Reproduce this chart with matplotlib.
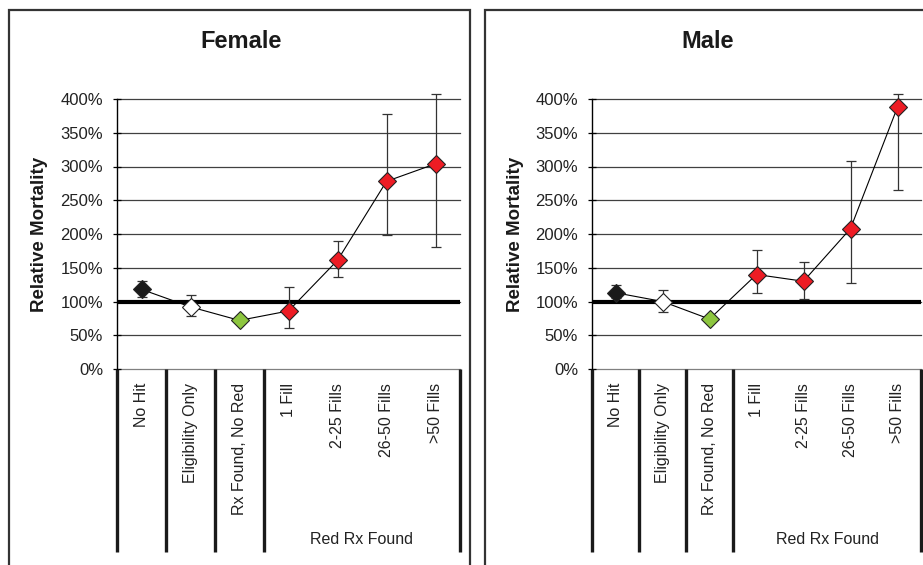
import numpy as np
import matplotlib
matplotlib.use("Agg")
import matplotlib.pyplot as plt
from matplotlib.patches import Rectangle
from matplotlib.ticker import FuncFormatter
import matplotlib.transforms as mtransforms

plt.rcParams['font.family'] = ['Liberation Sans', 'DejaVu Sans']

categories = ['No Hit', 'Eligibility Only', 'Rx Found, No Red',
              '1 Fill', '2-25 Fills', '26-50 Fills', '>50 Fills']
group_label = 'Red Rx Found'
marker_colors = ['#1a1a1a', '#ffffff', '#8dc63f',
                 '#ed1c24', '#ed1c24', '#ed1c24', '#ed1c24']

female_value = [118, 92, 72, 86, 161, 278, 304]
female_low = [106, 78, 68, 61, 136, 199, 181]
female_high = [130, 109, 76, 121, 189, 378, 408]

male_value = [113, 100, 74, 140, 130, 208, 388]
male_low = [105, 84, 71, 113, 103, 128, 265]
male_high = [124, 117, 77, 176, 158, 308, 408]

W, H = 923, 565
fig = plt.figure(figsize=(W / 100, H / 100), dpi=100)

# panel frames (bottom runs past the image edge)
for x0, x1 in [(8.5, 470), (485, 940)]:
    fig.patches.append(Rectangle((x0 / W, -0.2), (x1 - x0) / W, 1.2 - 10 / H,
                                 transform=fig.transFigure, fill=False,
                                 edgecolor='#333333', linewidth=1.6))


def draw_panel(ax, title, vals, low, high, title_x, ylabel_x):
    x = np.arange(len(categories))
    vals = np.array(vals)
    yerr = [vals - np.array(low), np.array(high) - vals]

    for yv in range(50, 401, 50):
        ax.axhline(yv, color='#404040', linewidth=0.9, zorder=1, clip_on=False)
    ax.axhline(0, color='#808080', linewidth=0.9, zorder=1, clip_on=False)
    ax.axhline(100, color='black', linewidth=3.0, zorder=2)

    ax.errorbar(x, vals, yerr=yerr, fmt='none', ecolor='#333333',
                elinewidth=0.9, capsize=3.5, capthick=0.9, zorder=3,
                clip_on=False)
    ax.plot(x, vals, color='black', linewidth=0.8, zorder=4, clip_on=False)
    for xi, v, c in zip(x, vals, marker_colors):
        ax.plot(xi, v, marker='D', markersize=9, markerfacecolor=c,
                markeredgecolor='#222222', markeredgewidth=0.8, zorder=5,
                clip_on=False)

    ax.set_xlim(-0.5, len(categories) - 0.5)
    ax.set_ylim(0, 400)
    ax.set_yticks(range(0, 401, 50))
    ax.yaxis.set_major_formatter(FuncFormatter(lambda v, p: f'{int(v)}%'))
    ax.tick_params(axis='y', direction='inout', length=6, width=0.9,
                   labelsize=12, labelcolor='#222222', pad=7)
    ax.set_xticks([])
    for s in ['top', 'right', 'bottom']:
        ax.spines[s].set_visible(False)
    ax.spines['left'].set_linewidth(1.0)

    # category separators below the axis
    trans = mtransforms.blended_transform_factory(ax.transData, ax.transAxes)
    for sx in [-0.5, 0.5, 1.5, 2.5, len(categories) - 0.5]:
        ax.plot([sx, sx], [0, -0.678], transform=trans, color='#1a1a1a',
                linewidth=2.4, clip_on=False, solid_capstyle='butt')
    for xi, lab in zip(x, categories):
        ax.text(xi, -0.052, lab, transform=trans, rotation=90, ha='center',
                va='top', fontsize=11.5, color='#222222')
    ax.text(4.5, -0.63, group_label, transform=trans, ha='center',
            va='center', fontsize=11.5, color='#222222')

    fig.text(title_x / W, 1 - 42 / H, title, ha='center', va='center',
             fontsize=17, fontweight='bold', color='#1a1a1a')
    fig.text(ylabel_x / W, 1 - 234 / H, 'Relative Mortality', rotation=90,
             ha='center', va='center', fontsize=13.5, fontweight='bold',
             color='#1a1a1a')


y0 = 1 - 369 / H
h = (369 - 99) / H
ax1 = fig.add_axes([117 / W, y0, (460 - 117) / W, h])
ax2 = fig.add_axes([592 / W, y0, (921 - 592) / W, h])
for a in (ax1, ax2):
    a.patch.set_alpha(0)

draw_panel(ax1, 'Female', female_value, female_low, female_high, 241, 40)
draw_panel(ax2, 'Male', male_value, male_low, male_high, 708, 515)

fig.savefig('out.png', dpi=100)
